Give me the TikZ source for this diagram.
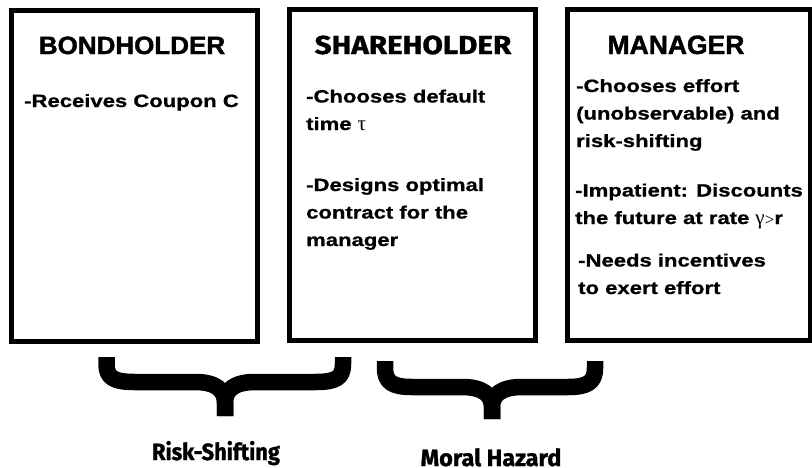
\documentclass[tikz,border=0pt]{standalone}
\usepackage{fontspec}
\setmainfont{Liberation Sans}
\newfontfamily\bodyfont{Liberation Sans}[FakeStretch=1.24,BoldFeatures={FakeStretch=1.24,FakeBold=0.9}]
\newfontfamily\headfont{Liberation Sans}[BoldFeatures={FakeBold=1.6}]
\newfontfamily\roundfont{Fira Sans}[BoldFeatures={FakeBold=1.2}]
\newfontfamily\greekfont{Liberation Serif}
\newcommand\grk[1]{{\greekfont\mdseries\fontsize{21}{21}\selectfont #1}}
\begin{document}
\begin{tikzpicture}[x=1pt,y=-1pt,
  panel/.style={draw=black,line width=5.5pt,fill=white,inner sep=0pt},
  bodytext/.style={anchor=base west,align=left,inner sep=0pt,
    font=\bodyfont\bfseries\fontsize{17.8}{27.5}\selectfont},
  headA/.style={anchor=base,inner sep=0pt,font=\headfont\bfseries\fontsize{25}{25}\selectfont},
  headB/.style={anchor=base,inner sep=0pt,font=\roundfont\bfseries\fontsize{26}{26}\selectfont},
  bracelabel/.style={anchor=base,inner sep=0pt,font=\roundfont\bfseries\fontsize{23.5}{23.5}\selectfont},
  bracestroke/.style={draw=black,line width=16.5pt,line cap=butt,line join=round}]
\useasboundingbox[fill=white] (0,0) rectangle (812,467);

% the three parties
\node[panel,minimum width=246pt,minimum height=331pt] (bond) at (134.5,176) {};
\node[panel,minimum width=246pt,minimum height=331pt] (share) at (412.5,175) {};
\node[panel,minimum width=243pt,minimum height=331pt] (mgr) at (689,175) {};

\node[headA] (bondT) at (132,54) {\addfontfeature{FakeStretch=1.04}BONDHOLDER};
\node[headB] (shareT) at (413,54) {\addfontfeature{FakeStretch=1.14}SHAREHOLDER};
\node[headA] (mgrT) at (676,54) {\fontsize{26.5}{26.5}\selectfont MANAGER};

% body lines; a multi-line node sits on the baseline of its last line
\node[bodytext] (b1) at (24,107) {-Receives Coupon C};

\node[bodytext] (s1) at (306,130) {-Chooses default\\time \grk{τ}};
\node[bodytext] (s2) at (306,246) {-Designs optimal\\contract for the\\manager};

\node[bodytext] (m1) at (576,147) {-Chooses effort\\(unobservable) and\\risk-shifting};
\node[bodytext] (m2) at (575,224) {-Impatient: Discounts\\the future at rate \grk{γ\raisebox{-1pt}{\fontsize{17}{17}\selectfont >}}r};
\node[bodytext] (m3) at (578,294) {-Needs incentives\\to exert effort};

% curly braces grouping the parties
\draw[bracestroke] (106.5,357) -- (106.5,364) .. controls (106.5,378) and (114,382) .. (135,382)
  -- (195,382) .. controls (216,382) and (225,390) .. (225,403) -- (225,416);
\draw[bracestroke] (343,357) -- (343,364) .. controls (343,378) and (336,382) .. (315,382)
  -- (255,382) .. controls (234,382) and (225,390) .. (225,403) -- (225,416);

\draw[bracestroke] (385,361) -- (385,368) .. controls (385,382) and (392,387) .. (412,387)
  -- (462,387) .. controls (483,387) and (492,395) .. (492,407) -- (492,419);
\draw[bracestroke] (595,361) -- (595,368) .. controls (595,382) and (588,387) .. (568,387)
  -- (522,387) .. controls (501,387) and (492,395) .. (492,407) -- (492,419);

\node[bracelabel] (risk) at (216,460) {\addfontfeature{FakeStretch=0.93}Risk-Shifting};
\node[bracelabel] (moral) at (491,466) {Moral Hazard};
\end{tikzpicture}
\end{document}
